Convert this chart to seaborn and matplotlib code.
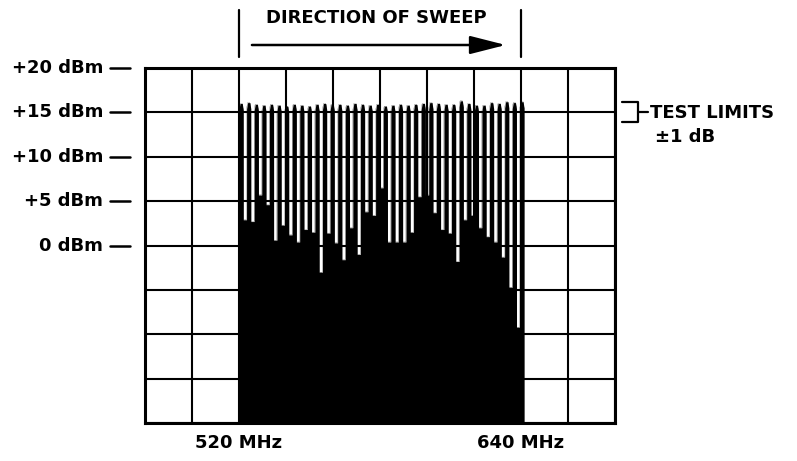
import numpy as np
import pandas as pd
import matplotlib
matplotlib.use("Agg")
import matplotlib.pyplot as plt
import matplotlib.transforms as mtransforms
import seaborn as sns

# Swept comb spectrum, 520 to 640 MHz
sweep_start_mhz = 520.0
sweep_stop_mhz = 641.3
x_range_mhz = (480, 680)
y_range_dbm = (-20, 20)

# Level of each comb line (dBm)
peak_dbm = [16.0, 16.1, 15.9, 15.8, 15.9, 15.8, 15.7, 15.9, 15.8, 15.7,
            15.9, 16.0, 15.9, 15.9, 15.8, 16.0, 15.9, 15.8, 15.9, 15.7,
            15.8, 15.9, 15.8, 15.9, 16.0, 16.1, 16.0, 15.9, 15.9, 16.3,
            16.0, 15.8, 15.8, 16.1, 16.0, 16.2, 16.1, 16.2]

# Level reached between neighbouring lines (dBm)
floor_dbm = [2.9, 2.7, 5.7, 4.6, 0.6, 2.3, 1.2, 0.4, 1.8, 1.5,
             -3.0, 1.4, 0.3, -1.6, 2.0, -1.0, 3.8, 3.4, 6.5, 0.4,
             0.4, 0.4, 1.5, 5.5, 5.7, 3.7, 1.8, 1.4, -1.8, 2.9,
             3.4, 2.0, 1.0, 0.4, -1.3, -4.7, -9.2]

ytick_values = [20, 15, 10, 5, 0]
ytick_labels = ["+20 dBm", "+15 dBm", "+10 dBm", "+5 dBm", "0 dBm"]
freq_marks = [520, 640]
freq_labels = ["520 MHz", "640 MHz"]

sns.set_theme(style="white")
plt.rcParams["font.family"] = ["DejaVu Sans"]

W, H = 797, 461
fig = plt.figure(figsize=(W / 100, H / 100), dpi=100)
ax = fig.add_axes([145 / W, 1 - 423 / H, 470 / W, 355 / H])


def fx(px):
    return px / W


def fy(py):
    return 1 - py / H


# Build the trace outline: rounded comb lines separated by narrow notches
n = len(peak_dbm)
hw = 0.9
centers = np.linspace(sweep_start_mhz + hw, sweep_stop_mhz - hw, n)
xs = [sweep_start_mhz]
ys = [y_range_dbm[0]]
for i, (c, p) in enumerate(zip(centers, peak_dbm)):
    xs += [c - hw, c - 0.55 * hw, c + 0.55 * hw, c + hw]
    ys += [p - 0.7, p, p, p - 0.7]
    if i < n - 1:
        nxt = centers[i + 1]
        xs += [c + hw + 0.02, nxt - hw - 0.02]
        ys += [floor_dbm[i], floor_dbm[i]]
xs += [sweep_stop_mhz]
ys += [y_range_dbm[0]]
trace = pd.DataFrame({"freq": xs, "level": ys})

ax.fill_between(trace["freq"], y_range_dbm[0], trace["level"],
                color="black", lw=0, zorder=2)
sns.lineplot(data=trace, x="freq", y="level", sort=False, estimator=None,
             color="black", lw=0.15, ax=ax, zorder=2)

# Graticule
ax.set_xlim(*x_range_mhz)
ax.set_ylim(*y_range_dbm)
ax.set_xticks(np.arange(x_range_mhz[0], x_range_mhz[1] + 1, 20))
ax.set_yticks(np.arange(y_range_dbm[0], y_range_dbm[1] + 1, 5))
ax.grid(True, color="black", lw=1.5)
ax.set_axisbelow(False)
ax.tick_params(length=0, labelbottom=False, labelleft=False)
ax.set_xlabel("")
ax.set_ylabel("")
for s in ax.spines.values():
    s.set_color("black")
    s.set_linewidth(2.2)
    s.set_zorder(4)

bold = dict(fontweight="bold", color="black", fontsize=13)

# Level scale on the left
ytrans = mtransforms.blended_transform_factory(fig.transFigure, ax.transData)
for v, lab in zip(ytick_values, ytick_labels):
    ax.text(fx(103), v, lab, transform=ytrans, ha="right", va="center", **bold)
    ax.plot([fx(110), fx(130)], [v, v], transform=ytrans, color="black",
            lw=1.8, clip_on=False)

# Frequency labels and sweep markers
xtrans = mtransforms.blended_transform_factory(ax.transData, fig.transFigure)
for f, lab in zip(freq_marks, freq_labels):
    ax.text(f, fy(443), lab, transform=xtrans, ha="center", va="center", **bold)
    ax.plot([f, f], [fy(10), fy(57)], transform=xtrans, color="black",
            lw=1.6, clip_on=False)

ax.annotate("", xy=(633.5, fy(45)), xytext=(525.5, fy(45)),
            xycoords=xtrans, textcoords=xtrans,
            arrowprops=dict(arrowstyle="-|>,head_length=1.1,head_width=0.28",
                            mutation_scale=20, lw=1.8, color="black",
                            shrinkA=0, shrinkB=0))
fig.text(fx(376), fy(18), "DIRECTION OF SWEEP", ha="center", va="center", **bold)

# Test limit bracket
fig.lines.append(plt.Line2D([fx(622), fx(638), fx(638), fx(622)],
                            [fy(102), fy(102), fy(122), fy(122)],
                            transform=fig.transFigure, color="black", lw=1.6))
fig.lines.append(plt.Line2D([fx(638), fx(648)], [fy(112), fy(112)],
                            transform=fig.transFigure, color="black", lw=1.6))
fig.text(fx(650), fy(113), "TEST LIMITS", ha="left", va="center", **bold)
fig.text(fx(655), fy(137), "±1 dB", ha="left", va="center", **bold)

fig.savefig("out.png", dpi=100, facecolor="white")
